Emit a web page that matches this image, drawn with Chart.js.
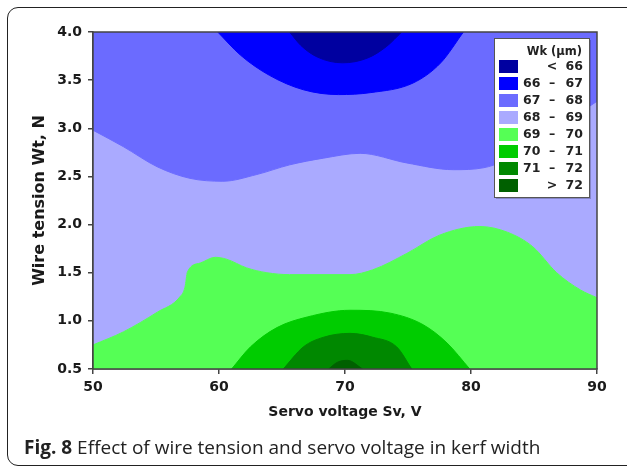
<!DOCTYPE html>
<html>
<head>
<meta charset="utf-8">
<script src="https://cdn.jsdelivr.net/npm/chart.js@4.4.1/dist/chart.umd.min.js"></script>
<style>
  html, body { margin: 0; padding: 0; background: #fff; overflow: hidden; }
  #wrap { position: relative; width: 627px; height: 467px; overflow: hidden; }
  #frame { position: absolute; left: 7px; top: 7px; width: 660px; height: 459px; box-sizing: border-box;
           border: 1.5px solid #222; border-radius: 11px; }
  #kerf { position: absolute; left: 0; top: 0; }
  #caption { position: absolute; left: 24px; top: 435px; font-size: 19px; line-height: 24px;
             font-family: "Open Sans", sans-serif; color: #222; white-space: nowrap; }
</style>
</head>
<body>
<div id="wrap">
  <div id="frame"></div>
  <canvas id="kerf" width="627" height="467"></canvas>
  <div id="caption"><b>Fig. 8</b> Effect of wire tension and servo voltage in kerf width</div>
</div>
<script>
// contour boundaries of kerf width Wk over servo voltage (x) and wire tension (y)
const wk66X = [65.6, 66.5, 67.8, 69.8, 71.8, 73.3, 74.5];
const wk66Y = [4.0, 3.86, 3.74, 3.68, 3.73, 3.85, 4.0];

const wk67X = [59.9, 61.7, 64.0, 66.7, 69.5, 72.0, 75.4, 77.6, 79.4];
const wk67Y = [4.0, 3.76, 3.55, 3.40, 3.35, 3.37, 3.47, 3.68, 4.0];

const wk68X = [50, 52.4, 55.1, 57.7, 60.3, 63.0, 65.6, 68.3, 71.2, 74.9, 78.6, 81.0, 84.0, 87.0, 90];
const wk68Y = [2.98, 2.81, 2.60, 2.48, 2.45, 2.52, 2.62, 2.69, 2.74, 2.64, 2.57, 2.59, 2.75, 3.02, 3.28];

const wk69X = [50, 52.4, 55.1, 56.9, 57.3, 57.5, 58.5, 59.7, 60.6, 62.2, 63.8, 65.6, 70.4, 72.2, 74.9, 77.5, 80.7, 82.9, 84.9, 86.8, 88.7, 90];
const wk69Y = [0.75, 0.885, 1.09, 1.25, 1.35, 1.51, 1.60, 1.66, 1.64, 1.55, 1.50, 1.48, 1.48, 1.53, 1.70, 1.89, 1.98, 1.92, 1.77, 1.50, 1.32, 1.24];

const wk70X = [61.0, 62.5, 64.6, 67.0, 70.4, 73.6, 76.2, 78.1, 79.9];
const wk70Y = [0.5, 0.73, 0.93, 1.04, 1.11, 1.08, 0.96, 0.77, 0.5];

const wk71X = [65.1, 66.7, 68.3, 70.4, 72.2, 74.1, 75.3];
const wk71Y = [0.5, 0.73, 0.83, 0.87, 0.83, 0.73, 0.5];

const wk72X = [68.7, 69.4, 70.2, 71.4];
const wk72Y = [0.5, 0.57, 0.59, 0.5];

// legend classes
const levelLow = [null, 66, 67, 68, 69, 70, 71, 72];
const levelHigh = [66, 67, 68, 69, 70, 71, 72, null];
const levelColors = ['#0000a0', '#0000ff', '#6b6bff', '#aaaaff', '#55ff55', '#00cc00', '#008800', '#006000'];

const xTicks = [50, 60, 70, 80, 90];
const yTicks = [0.5, 1.0, 1.5, 2.0, 2.5, 3.0, 3.5, 4.0];

function band(xs, ys, color, fill) {
  return {
    data: xs.map((x, i) => ({ x: x, y: ys[i] })),
    backgroundColor: color,
    borderColor: color,
    borderWidth: 1,
    pointRadius: 0,
    fill: fill,
    cubicInterpolationMode: 'monotone'
  };
}

// stacked from the bottom layer up
const layers = [
  band(wk69X, wk69Y, levelColors[3], 'end'),
  band(wk68X, wk68Y, levelColors[2], 'end'),
  band(wk67X, wk67Y, levelColors[1], 'end'),
  band(wk66X, wk66Y, levelColors[0], 'end'),
  band(wk69X, wk69Y, levelColors[4], 'start'),
  band(wk70X, wk70Y, levelColors[5], 'start'),
  band(wk71X, wk71Y, levelColors[6], 'start'),
  band(wk72X, wk72Y, levelColors[7], 'start')
];
layers.forEach((d, i) => { d.order = layers.length - i; });

const plotFrame = {
  id: 'plotFrame',
  afterDatasetsDraw(chart) {
    const { ctx, chartArea: a } = chart;
    ctx.save();
    ctx.strokeStyle = '#444';
    ctx.lineWidth = 1.5;
    ctx.strokeRect(a.left, a.top, a.right - a.left, a.bottom - a.top);
    ctx.restore();
  }
};

const kerfLegend = {
  id: 'kerfLegend',
  afterDraw(chart) {
    const { ctx, chartArea } = chart;
    const w = 95, h = 159;
    const left = chartArea.right - 8 - w, top = chartArea.top + 6;
    ctx.save();
    ctx.fillStyle = 'rgba(0,0,0,0.22)';
    ctx.fillRect(left + 2, top + 2, w, h);
    ctx.fillStyle = '#fff';
    ctx.fillRect(left, top, w, h);
    ctx.strokeStyle = '#555';
    ctx.lineWidth = 1;
    ctx.strokeRect(left + 0.5, top + 0.5, w, h);

    ctx.fillStyle = '#222';
    ctx.font = 'bold 11.5px "DejaVu Sans"';
    ctx.textAlign = 'right';
    ctx.textBaseline = 'alphabetic';
    ctx.fillText('Wk (μm)', left + w - 7, top + 17);

    ctx.font = 'bold 12.5px "DejaVu Sans"';
    ctx.textBaseline = 'middle';
    levelColors.forEach((c, i) => {
      const y = top + 22 + i * 17;
      const cy = y + 7;
      ctx.fillStyle = c;
      ctx.fillRect(left + 5, y, 19, 13);
      ctx.fillStyle = '#222';
      const lo = levelLow[i], hi = levelHigh[i];
      if (lo !== null && hi !== null) {
        ctx.textAlign = 'left';
        ctx.fillText(String(lo), left + 29, cy);
      }
      ctx.textAlign = 'center';
      ctx.fillText(lo === null ? '<' : hi === null ? '>' : '–', left + 58, cy);
      ctx.textAlign = 'right';
      ctx.fillText(String(hi !== null ? hi : lo), left + w - 6, cy);
    });
    ctx.restore();
  }
};

const axisFont = { family: 'DejaVu Sans', size: 14, weight: 'bold' };

new Chart(document.getElementById('kerf'), {
  type: 'line',
  data: { datasets: layers },
  options: {
    responsive: false,
    animation: false,
    events: [],
    layout: { padding: { top: 32, right: 30, bottom: 40, left: 0 } },
    plugins: {
      legend: { display: false },
      tooltip: { enabled: false }
    },
    scales: {
      x: {
        type: 'linear',
        min: 50,
        max: 90,
        afterBuildTicks: s => { s.ticks = xTicks.map(v => ({ value: v })); },
        afterFit: s => { s.height = 58; },
        ticks: { color: '#1a1a1a', font: axisFont, padding: 5 },
        grid: { drawOnChartArea: false, tickLength: 5, color: '#444', lineWidth: 1.5 },
        border: { color: '#444', width: 1.5 },
        title: { display: true, text: 'Servo voltage Sv, V', color: '#1a1a1a', font: axisFont,
                 padding: { top: 0, bottom: 6.6 } }
      },
      y: {
        min: 0.5,
        max: 4.0,
        afterBuildTicks: s => { s.ticks = yTicks.map(v => ({ value: v })); },
        afterFit: s => { s.width = 93; },
        ticks: { color: '#1a1a1a', font: axisFont, padding: 6, callback: v => v.toFixed(1) },
        grid: { drawOnChartArea: false, tickLength: 5, color: '#444', lineWidth: 1.5 },
        border: { color: '#444', width: 1.5 },
        title: { display: true, text: 'Wire tension Wt, N', color: '#1a1a1a',
                 font: { family: 'DejaVu Sans', size: 16, weight: 'bold' },
                 padding: { top: 30.4, bottom: 0 } }
      }
    }
  },
  plugins: [plotFrame, kerfLegend]
});
</script>
</body>
</html>
